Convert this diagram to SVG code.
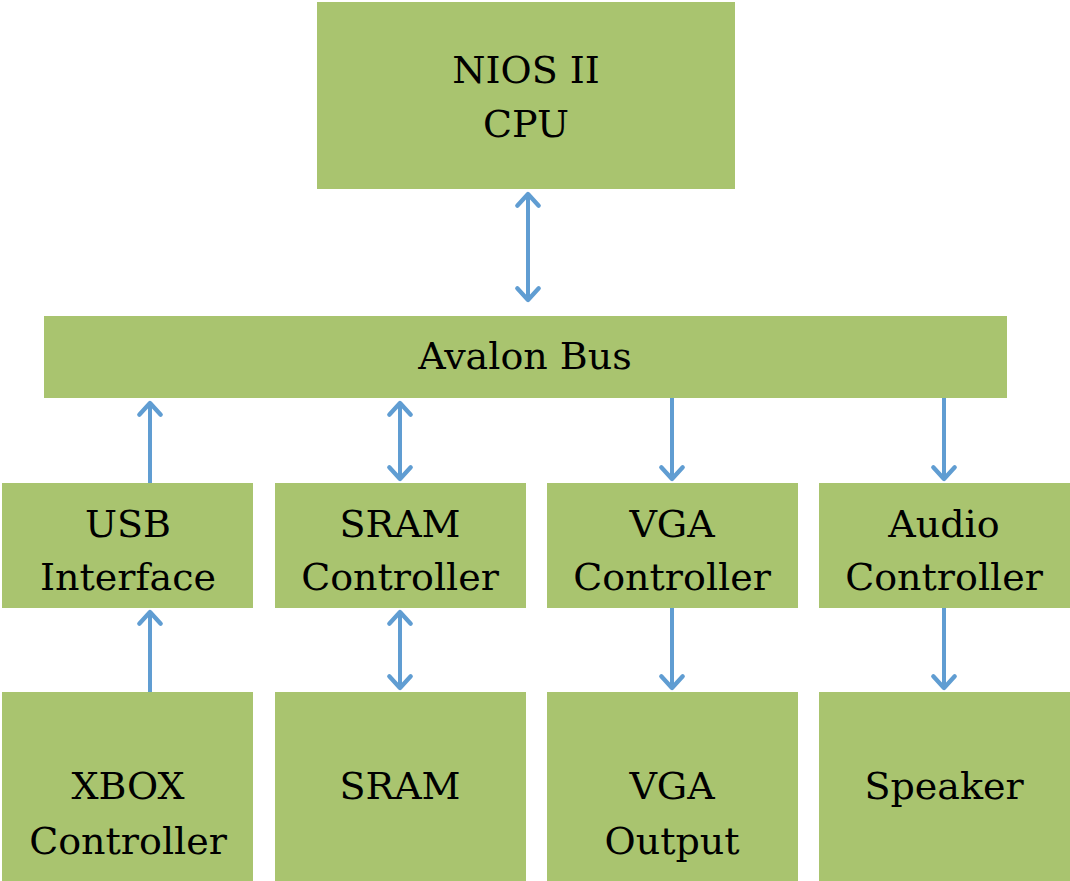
<svg xmlns="http://www.w3.org/2000/svg" width="1070" height="881" viewBox="0 0 1070 881">
<style>
.box{fill:#A9C46F;}
.lbl{font-family:"DejaVu Serif","Liberation Serif",serif;font-size:38px;fill:#000;text-anchor:middle;}
.conn{stroke:#609DD2;stroke-width:4;fill:none;}
</style>
<defs>
<marker id="ah" markerUnits="userSpaceOnUse" markerWidth="30" markerHeight="30" viewBox="-16 -14 20 28" refX="0" refY="0" orient="auto-start-reverse">
<path d="M-11,-10 L0,0 L-11,10" fill="none" stroke="#609DD2" stroke-width="4" stroke-linecap="round" stroke-linejoin="round"/>
</marker>
</defs>
<rect width="1070" height="881" fill="#fff"/>
<g id="cpu"><rect class="box" x="317" y="2" width="418" height="187"/><text class="lbl" x="526" y="83">NIOS II</text><text class="lbl" x="526" y="137">CPU</text></g>
<g id="bus"><rect class="box" x="44" y="316" width="963" height="82"/><text class="lbl" x="525" y="369">Avalon Bus</text></g>
<g id="usb"><rect class="box" x="2" y="483" width="251" height="125"/><text class="lbl" x="128" y="537">USB</text><text class="lbl" x="128" y="590">Interface</text></g>
<g id="sramctrl"><rect class="box" x="275" y="483" width="251" height="125"/><text class="lbl" x="400" y="537">SRAM</text><text class="lbl" x="400" y="590">Controller</text></g>
<g id="vgactrl"><rect class="box" x="547" y="483" width="251" height="125"/><text class="lbl" x="672" y="537">VGA</text><text class="lbl" x="672" y="590">Controller</text></g>
<g id="audio"><rect class="box" x="819" y="483" width="251" height="125"/><text class="lbl" x="944" y="537">Audio</text><text class="lbl" x="944" y="590">Controller</text></g>
<g id="xbox"><rect class="box" x="2" y="692" width="251" height="189"/><text class="lbl" x="128" y="799">XBOX</text><text class="lbl" x="128" y="854">Controller</text></g>
<g id="sram"><rect class="box" x="275" y="692" width="251" height="189"/><text class="lbl" x="400" y="799">SRAM</text></g>
<g id="vgaout"><rect class="box" x="547" y="692" width="251" height="189"/><text class="lbl" x="672" y="799">VGA</text><text class="lbl" x="672" y="854">Output</text></g>
<g id="speaker"><rect class="box" x="819" y="692" width="251" height="189"/><text class="lbl" x="944" y="799">Speaker</text></g>
<g id="connectors">
<line class="conn" x1="528" y1="194" x2="528" y2="300" marker-start="url(#ah)" marker-end="url(#ah)"/>
<line class="conn" x1="150" y1="483" x2="150" y2="403" marker-end="url(#ah)"/>
<line class="conn" x1="400" y1="403" x2="400" y2="479" marker-start="url(#ah)" marker-end="url(#ah)"/>
<line class="conn" x1="672" y1="398" x2="672" y2="479" marker-end="url(#ah)"/>
<line class="conn" x1="944" y1="398" x2="944" y2="479" marker-end="url(#ah)"/>
<line class="conn" x1="150" y1="692" x2="150" y2="612" marker-end="url(#ah)"/>
<line class="conn" x1="400" y1="612" x2="400" y2="688" marker-start="url(#ah)" marker-end="url(#ah)"/>
<line class="conn" x1="672" y1="608" x2="672" y2="688" marker-end="url(#ah)"/>
<line class="conn" x1="944" y1="608" x2="944" y2="688" marker-end="url(#ah)"/>
</g>
</svg>
